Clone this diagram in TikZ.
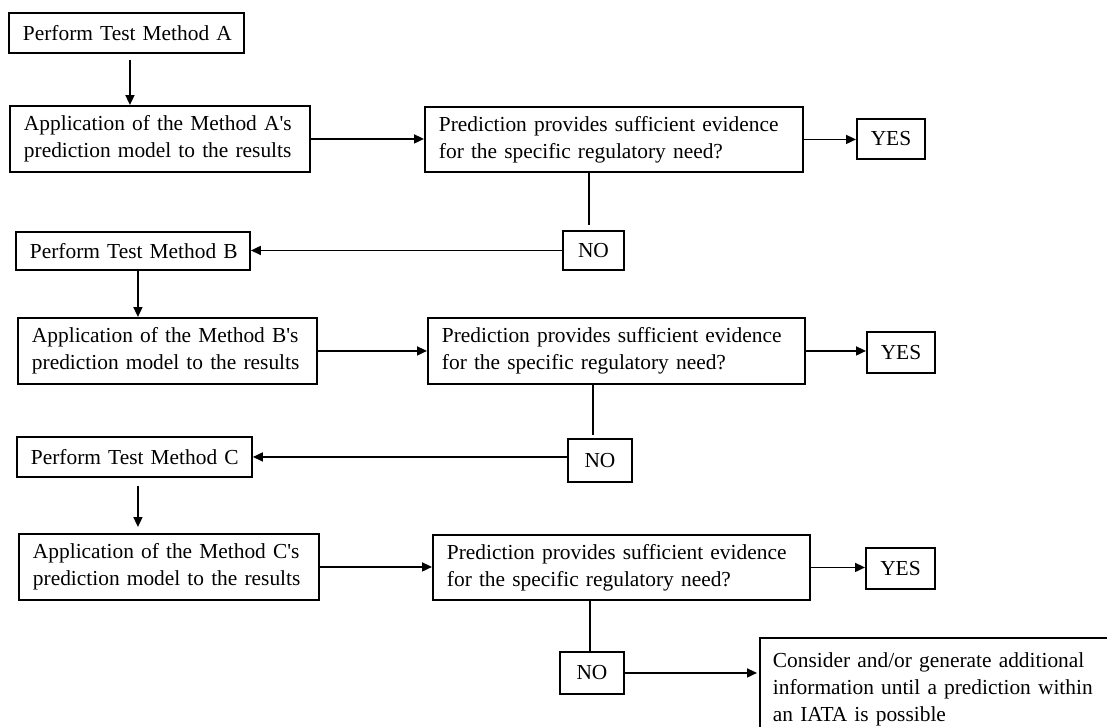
\documentclass[tikz,border=0pt]{standalone}
\usepackage{fontspec}
\setmainfont{Liberation Serif}
\usetikzlibrary{arrows.meta}
\begin{document}
\begin{tikzpicture}[x=1pt,y=-1pt,
  txt/.style={font=\fontsize{21.4}{27}\selectfont},
  box/.style={txt, draw, line width=1.9pt, anchor=north west, align=left, inner xsep=14pt, inner ysep=0pt},
  sbox/.style={txt, draw, line width=1.9pt, anchor=north west, align=center, inner sep=0pt},
  arr/.style={line width=1.7pt, -{Triangle[length=10pt,width=9pt]}},
  ln/.style={line width=1.7pt}]
\useasboundingbox (0,0) rectangle (1107,726);
\clip (0,0) rectangle (1107,726);
% --- Method A
\node[box, text width=207pt, minimum height=40pt] (a1) at (8,12) {\mbox{Perform Test Method A}};
\node[box, text width=272pt, minimum height=66pt] (a2) at (9,105)
  {\mbox{Application of the Method A\textquotesingle s}\\\mbox{prediction model to the results}};
\node[box, text width=350pt, minimum height=65pt] (d1) at (424,106)
  {\mbox{Prediction provides sufficient evidence}\\\mbox{for the specific regulatory need?}};
\node[sbox, minimum width=68pt, minimum height=40pt] (y1) at (856,118) {YES};
\node[sbox, minimum width=61pt, minimum height=39pt] (n1) at (562,230) {NO};
% --- Method B
\node[box, text width=206pt, minimum height=38pt] (b1) at (15,231) {\mbox{Perform Test Method B}};
\node[box, text width=271pt, minimum height=66pt] (b2) at (17,317)
  {\mbox{Application of the Method B\textquotesingle s}\\\mbox{prediction model to the results}};
\node[box, text width=349pt, minimum height=66pt] (d2) at (427,317)
  {\mbox{Prediction provides sufficient evidence}\\\mbox{for the specific regulatory need?}};
\node[sbox, minimum width=68pt, minimum height=41pt] (y2) at (866,331) {YES};
\node[sbox, minimum width=64pt, minimum height=43pt] (n2) at (567,438) {NO};
% --- Method C
\node[box, text width=207pt, minimum height=40pt] (c1) at (16,436) {\mbox{Perform Test Method C}};
\node[box, text width=272pt, minimum height=66pt] (c2) at (18,533)
  {\mbox{Application of the Method C\textquotesingle s}\\\mbox{prediction model to the results}};
\node[box, text width=349pt, minimum height=65pt] (d3) at (432,534)
  {\mbox{Prediction provides sufficient evidence}\\\mbox{for the specific regulatory need?}};
\node[sbox, minimum width=69pt, minimum height=41pt] (y3) at (865,547) {YES};
\node[sbox, minimum width=64pt, minimum height=42pt] (n3) at (559,651) {NO};
\node[box, text width=372pt, inner xsep=13pt, inner ysep=15pt] (cons) at (759,637)
  {\mbox{Consider and/or generate additional}\\\mbox{information until a prediction within}\\\mbox{an IATA is possible}};
% --- connectors A
\draw[arr] ([shift={(3.5,6)}]a1.south) -- ([xshift=3.5pt]a1.south |- a2.north);
\draw[arr] (a2.east) -- (a2.east -| d1.west);
\draw[arr] (d1.east) -- (d1.east -| y1.west);
\draw[ln] ([xshift=-4.5pt]n1.north |- d1.south) -- ([shift={(-4.5,-5)}]n1.north);
\draw[arr] (n1.west) -- (n1.west -| b1.east);
% --- connectors B
\draw[arr] ([xshift=5pt]b1.south) -- ([xshift=5pt]b1.south |- b2.north);
\draw[arr] (b2.east) -- (b2.east -| d2.west);
\draw[arr] (d2.east) -- (d2.east -| y2.west);
\draw[ln] ([xshift=-7pt]n2.north |- d2.south) -- ([shift={(-7,-3)}]n2.north);
\draw[arr] (n2.west |- c1.east) -- (c1.east);
% --- connectors C
\draw[arr] ([shift={(3.5,8)}]c1.south) -- ([shift={(3.5,-6)}]c1.south |- c2.north);
\draw[arr] (c2.east) -- (c2.east -| d3.west);
\draw[arr] (d3.east) -- (d3.east -| y3.west);
\draw[ln] ([xshift=-2pt]n3.north |- d3.south) -- ([xshift=-2pt]n3.north);
\draw[arr] (n3.east) -- ([xshift=-2pt]n3.east -| cons.west);
\end{tikzpicture}
\end{document}
